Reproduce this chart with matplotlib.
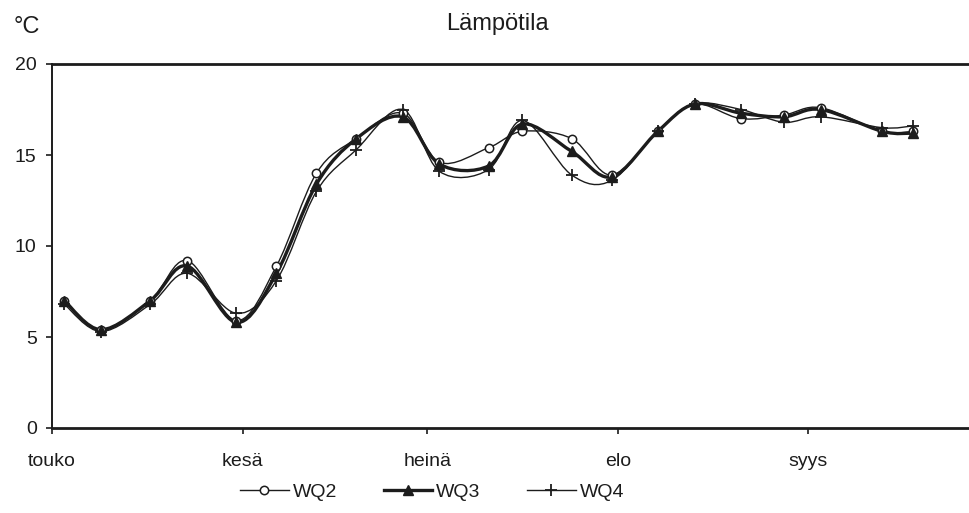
import numpy as np
import matplotlib
matplotlib.use("Agg")
import matplotlib.pyplot as plt
from matplotlib.path import Path
from matplotlib.patches import PathPatch
from matplotlib.lines import Line2D

plt.rcParams['font.family'] = ['Liberation Sans', 'DejaVu Sans']

# days after 1 May
days = [2, 8, 16, 22, 30, 36.5, 43, 49.5, 57, 63, 71, 76.5, 84.5, 91,
        98.5, 104.5, 112, 119, 125, 135, 140]
wq2 = [7.0, 5.4, 7.0, 9.2, 5.9, 8.9, 14.0, 15.9, 17.3, 14.6, 15.4, 16.3,
       15.9, 13.9, 16.3, 17.8, 17.0, 17.2, 17.6, 16.3, 16.3]
wq3 = [7.0, 5.4, 7.0, 8.9, 5.8, 8.5, 13.4, 15.9, 17.1, 14.5, 14.4, 16.7,
       15.2, 13.8, 16.3, 17.8, 17.3, 17.1, 17.5, 16.3, 16.2]
wq4 = [6.8, 5.3, 6.8, 8.5, 6.3, 8.1, 13.0, 15.3, 17.5, 14.1, 14.2, 16.9,
       13.9, 13.6, 16.3, 17.8, 17.5, 16.8, 17.1, 16.5, 16.6]

month_pos = [0, 31, 61, 92, 123]
month_labels = ['touko', 'kesä', 'heinä', 'elo', 'syys']
y_ticks = [0, 5, 10, 15, 20]

INK = '#1c1c1c'

def smooth_path(xs, ys):
    """Excel-style smoothed line: cubic Bezier segments (Catmull-Rom control points)."""
    P = np.column_stack([xs, ys]).astype(float)
    n = len(P)
    verts = [tuple(P[0])]
    codes = [Path.MOVETO]
    for i in range(n - 1):
        p0 = P[i - 1] if i > 0 else P[i]
        p1 = P[i]
        p2 = P[i + 1]
        p3 = P[i + 2] if i + 2 < n else P[i + 1]
        c1 = p1 + (p2 - p0) / 6.0
        c2 = p2 - (p3 - p1) / 6.0
        verts += [tuple(c1), tuple(c2), tuple(p2)]
        codes += [Path.CURVE4] * 3
    return Path(verts, codes)

fig = plt.figure(figsize=(9.7, 5.13), dpi=100)
ax = fig.add_axes([52 / 970, 1 - 428 / 513, 1 - 52 / 970, (428 - 64) / 513])

series = [
    (wq2, 'WQ2', 1.0, dict(marker='o', ms=6, mfc='white', mec=INK, mew=1.1)),
    (wq3, 'WQ3', 2.4, dict(marker='^', ms=6.5, mfc=INK, mec=INK, mew=1.0)),
    (wq4, 'WQ4', 1.0, dict(marker='+', ms=9, mec=INK, mew=1.3)),
]
handles = []
for vals, name, lw, mk in series:
    ax.add_patch(PathPatch(smooth_path(days, vals), fill=False, edgecolor=INK,
                           lw=lw, capstyle='round', joinstyle='round', zorder=2))
    ax.plot(days, vals, linestyle='none', zorder=3, **mk)
    handles.append(Line2D([], [], color=INK, lw=lw, **mk))

ax.set_xlim(0, (970 - 52) / 6.15)
ax.set_ylim(0, 20)
ax.set_yticks(y_ticks)
ax.set_xticks(month_pos)
ax.set_xticklabels(month_labels)

for s in ['left', 'bottom', 'top']:
    ax.spines[s].set_color(INK)
ax.spines['left'].set_linewidth(1.4)
ax.spines['bottom'].set_linewidth(2.0)
ax.spines['top'].set_linewidth(2.0)
ax.spines['right'].set_visible(False)

ax.tick_params(axis='y', direction='out', length=4, width=1.2, color=INK,
               labelsize=14, pad=7, labelcolor=INK)
ax.tick_params(axis='x', direction='out', length=4, width=1.2, color=INK,
               labelsize=14, pad=14, labelcolor=INK)

fig.text(497 / 970, 1 - 30 / 513, 'Lämpötila', ha='center', va='baseline',
         fontsize=17, color=INK)
fig.text(14 / 970, 1 - 33 / 513, '°C', ha='left', va='baseline',
         fontsize=17, color=INK)

fig.legend(handles, ['WQ2', 'WQ3', 'WQ4'], loc='center',
           bbox_to_anchor=(432 / 970, 1 - 492 / 513), ncol=3, frameon=False,
           fontsize=14, handlelength=2.5, handletextpad=0.2, columnspacing=2.4,
           labelcolor=INK)

fig.savefig('out.png', dpi=100, facecolor='white')
